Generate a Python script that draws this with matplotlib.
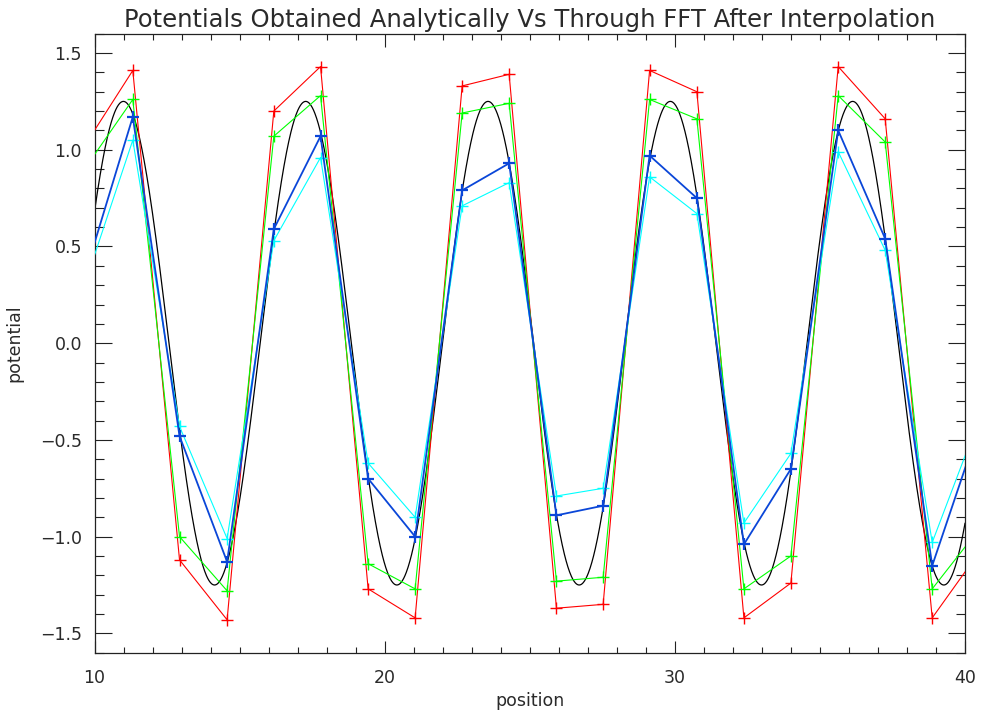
import numpy as np
import matplotlib
matplotlib.use("Agg")
import matplotlib.pyplot as plt
from matplotlib.ticker import MultipleLocator

# Analytic potential: phi(x) = -A sin(k x)
amplitude = 1.25
wavenumber = 1.0

# Grid positions where the FFT-derived potentials were sampled
grid_x = [9.70, 11.32, 12.93, 14.57, 16.18, 17.79, 19.43, 21.05, 22.67, 24.29,
          25.92, 27.53, 29.13, 30.76, 32.38, 34.00, 35.63, 37.25, 38.87, 40.49]

pot_red = [1.03, 1.41, -1.12, -1.43, 1.20, 1.43, -1.27, -1.42, 1.33, 1.39,
           -1.37, -1.35, 1.41, 1.30, -1.42, -1.24, 1.43, 1.16, -1.42, -1.08]
pot_green = [0.91, 1.26, -1.00, -1.28, 1.07, 1.28, -1.14, -1.27, 1.19, 1.24,
             -1.23, -1.21, 1.26, 1.16, -1.27, -1.10, 1.28, 1.04, -1.27, -0.96]
pot_blue = [0.37, 1.17, -0.48, -1.13, 0.59, 1.07, -0.70, -1.00, 0.79, 0.93,
            -0.89, -0.84, 0.97, 0.75, -1.04, -0.65, 1.10, 0.54, -1.15, -0.43]
pot_cyan = [0.32, 1.05, -0.43, -1.01, 0.53, 0.96, -0.62, -0.90, 0.71, 0.83,
            -0.79, -0.75, 0.86, 0.67, -0.93, -0.57, 0.99, 0.48, -1.03, -0.39]

FONT = "DejaVu Sans"
TXT = "#2a2a2a"

fig = plt.figure(figsize=(9.85, 7.13), dpi=100)
ax = fig.add_axes([94.5 / 985, (713 - 652.7) / 713, 870.5 / 985, (652.7 - 33.7) / 713])

xs = np.linspace(10, 40, 2000)
ax.plot(xs, -amplitude * np.sin(wavenumber * xs), color="black", lw=0.9, zorder=2)

ms = 8.5
ax.plot(grid_x, pot_red, color="#ff0000", lw=0.8, marker="+", ms=ms, mew=1.0, zorder=3)
ax.plot(grid_x, pot_green, color="#00ff00", lw=0.8, marker="+", ms=ms, mew=1.0, zorder=3)
ax.plot(grid_x, pot_cyan, color="#00ffff", lw=0.8, marker="+", ms=ms, mew=1.0, zorder=4)
ax.plot(grid_x, pot_blue, color="#0a46d8", lw=1.3, marker="+", ms=ms, mew=1.6, zorder=5)

ax.set_xlim(10, 40)
ax.set_ylim(-1.6, 1.6)

ax.xaxis.set_major_locator(MultipleLocator(10))
ax.xaxis.set_minor_locator(MultipleLocator(1))
ax.yaxis.set_major_locator(MultipleLocator(0.5))
ax.yaxis.set_minor_locator(MultipleLocator(0.1))

ax.tick_params(axis="both", which="both", direction="in", top=True, right=True,
               color="#222222", width=0.8)
ax.tick_params(axis="x", which="major", length=9, pad=12)
ax.tick_params(axis="x", which="minor", length=4.5)
ax.tick_params(axis="y", which="major", length=12.5, pad=9)
ax.tick_params(axis="y", which="minor", length=6.3)

for sp in ax.spines.values():
    sp.set_color("#222222")
    sp.set_linewidth(0.9)

for lab in ax.get_xticklabels() + ax.get_yticklabels():
    lab.set_family(FONT)
    lab.set_fontsize(12.5)
    lab.set_color(TXT)

ax.set_xlabel("position", family=FONT, fontsize=12.5, labelpad=3, color=TXT)
ax.set_ylabel("potential", family=FONT, fontsize=12.5, labelpad=12, color=TXT)
ax.set_title("Potentials Obtained Analytically Vs Through FFT After Interpolation",
             family=FONT, fontsize=17.5, pad=5, color=TXT)

fig.savefig("out.png", dpi=100)
